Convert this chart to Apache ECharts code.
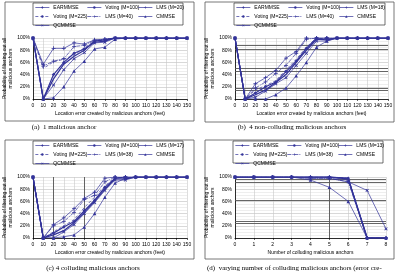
<!DOCTYPE html>
<html><head><meta charset="utf-8">
<script src="https://cdn.jsdelivr.net/npm/echarts@6/dist/echarts.min.js"></script>
<style>html,body{margin:0;padding:0;background:#fff}#c{width:397px;height:274px}</style>
</head><body><div id="c"></div>
<script>
// ---- data ----
const xFeet = [0,10,20,30,40,50,60,70,80,90,100,110,120,130,140,150];
const xCount = [0,1,2,3,4,5,6,7,8];
const yTicks = [0,20,40,60,80,100];

const namesA = ['EARMMSE','Voting (M=100)','LMS (M=20)','Voting (M=225)','LMS (M=40)','CMMSE','QCMMSE'];
const namesB = ['EARMMSE','Voting (M=100)','LMS (M=18)','Voting (M=225)','LMS (M=40)','CMMSE','QCMMSE'];
const namesC = ['EARMMSE','Voting (M=100)','LMS (M=17)','Voting (M=225)','LMS (M=38)','CMMSE','QCMMSE'];
const namesD = ['EARMMSE','Voting (M=100)','LMS (M=13)','Voting (M=225)','LMS (M=38)','CMMSE','QCMMSE'];

// (a) 1 malicious anchor
const a_earmmse = [100,0,40,60,75,82,93,95,100,100,100,100,100,100,100,100];
const a_vote100 = [100,0,33,57,70,80,95,97,100,100,100,100,100,100,100,100];
const a_lms1    = [100,57,83,83,92,90,97,98,100,100,100,100,100,100,100,100];
const a_vote225 = [100,50,61,65,72,84,95,97,100,100,100,100,100,100,100,100];
const a_lms2    = [100,54,62,66,86,88,96,98,100,100,100,100,100,100,100,100];
const a_cmmse   = [100,0,2,20,46,62,82,85,98,100,100,100,100,100,100,100];
const a_qcmmse  = [100,0,23,48,66,76,92,93,100,100,100,100,100,100,100,100];

// (b) 4 non-colluding malicious anchors
const b_earmmse = [100,0,10,20,28,45,62,83,100,100,100,100,100,100,100,100];
const b_vote100 = [100,0,7,15,27,40,60,80,98,97,100,100,100,100,100,100];
const b_lms1    = [100,0,25,35,47,67,78,100,100,100,100,100,100,100,100,100];
const b_vote225 = [100,0,15,22,30,48,65,85,100,98,100,100,100,100,100,100];
const b_lms2    = [100,0,18,28,42,55,75,98,100,100,100,100,100,100,100,100];
const b_cmmse   = [100,0,0,0,7,18,38,60,85,95,100,100,100,100,100,100];
const b_qcmmse  = [100,0,3,13,25,35,55,75,95,95,100,100,100,100,100,100];

// (c) 4 colluding malicious anchors
const c_earmmse = [100,0,8,18,27,45,62,83,98,100,100,100,100,100,100,100];
const c_vote100 = [100,0,5,12,25,42,60,80,97,97,100,100,100,100,100,100];
const c_lms1    = [100,0,22,33,48,65,75,98,100,100,100,100,100,100,100,100];
const c_vote225 = [100,0,10,20,30,50,67,85,100,98,100,100,100,100,100,100];
const c_lms2    = [100,0,20,27,42,63,70,92,100,100,100,100,100,100,100,100];
const c_cmmse   = [100,0,0,2,5,18,40,67,90,98,100,100,100,100,100,100];
const c_qcmmse  = [100,0,0,10,22,40,58,78,95,95,100,100,100,100,100,100];

// (d) varying number of colluding malicious anchors
const d_earmmse = [100,100,100,100,100,100,98,0,0];
const d_vote100 = [100,100,100,100,100,100,97,0,0];
const d_lms1    = [100,100,100,100,100,100,95,0,0];
const d_vote225 = [100,100,100,100,100,100,98,0,0];
const d_lms2    = [100,100,100,100,98,98,92,0,0];
const d_cmmse   = [100,100,100,100,95,83,60,0,0];
const d_qcmmse  = [100,100,100,100,98,98,92,78,15];

// scan artefact lines
const b_darkY = [88,82,51,46,18,14];
const c_darkX = [20,50];
const d_darkY = [97,91,62,28,24];
const d_darkX = [5];

const captions = ['(a)  1 malicious anchor','(b)  4 non-colluding malicious anchors','(c) 4 colluding malicious anchors','(d)  varying number of colluding malicious anchors (error cre-'];
const xTitles = ['Location error created by malicious anchors (feet)','Location error created by malicious anchors (feet)','Location error created by malicious anchors (feet)','Number of colluding malicious anchors'];
const yTitle = 'Probability of filtering out all\nmalicious anchors';

// ---- styles ----
const C = '#34349a';
const plus = 'path://M2,0h1v2h2v1h-2v2h-1v-2h-2v-1h2z';
const styles = [
  {symbol:'diamond', size:3.5, width:1.2, type:'solid'},
  {symbol:'none', size:0, width:1.3, type:'solid'},
  {symbol:plus, size:4, width:0.7, type:'solid'},
  {symbol:'none', size:0, width:0.7, type:[3,2]},
  {symbol:plus, size:4, width:0.7, type:[4,1,1,1]},
  {symbol:'triangle', size:3.5, width:0.7, type:'solid'},
  {symbol:plus, size:4, width:0.7, type:'solid', rotate:45}
];

const panels = [
  {names:namesA, data:[a_earmmse,a_vote100,a_lms1,a_vote225,a_lms2,a_cmmse,a_qcmmse], x:xFeet, max:150, itv:10,
   grid:{left:33,right:210,top:38,bottom:175}, frame:[5,2,189,119], lbox:[33,3,150,22], cap:[64,127]},
  {names:namesB, data:[b_earmmse,b_vote100,b_lms1,b_vote225,b_lms2,b_cmmse,b_qcmmse], x:xFeet, max:150, itv:10,
   grid:{left:235,right:9,top:38,bottom:175}, frame:[205,2,189,120], lbox:[234,3,151,22], cap:[292,127], darkY:b_darkY},
  {names:namesC, data:[c_earmmse,c_vote100,c_lms1,c_vote225,c_lms2,c_cmmse,c_qcmmse], x:xFeet, max:150, itv:10,
   grid:{left:33,right:210,top:177,bottom:36}, frame:[5,140,189,119], lbox:[33,141,150,23], cap:[93,268], darkX:c_darkX},
  {names:namesD, data:[d_earmmse,d_vote100,d_lms1,d_vote225,d_lms2,d_cmmse,d_qcmmse], x:xCount, max:8, itv:1,
   grid:{left:235,right:11,top:177,bottom:36}, frame:[205,140,189,119], lbox:[233,141,150,22], cap:[207,268], capLeft:true, darkY:d_darkY, darkX:d_darkX}
];

const grids=[], xAxes=[], yAxes=[], series=[], legends=[], graphics=[];
const fam = 'Liberation Sans';
panels.forEach((p,pi)=>{
  grids.push(p.grid);
  xAxes.push({type:'value', gridIndex:pi, min:0, max:p.max, interval:p.itv,
    name:xTitles[pi], nameLocation:'middle', nameGap:12, nameTextStyle:{fontSize:5, fontFamily:fam, color:'#000'},
    axisLine:{lineStyle:{color:'#000', width:0.8}}, axisTick:{show:true, length:2, lineStyle:{color:'#000',width:0.6}},
    axisLabel:{fontSize:5, fontFamily:fam, color:'#000', margin:4},
    splitLine:{show:true, lineStyle:{color:'#c8c8c8', width:0.6}}});
  yAxes.push({type:'value', gridIndex:pi, min:0, max:100, interval:20,
    name:yTitle, nameLocation:'middle', nameGap:17, nameRotate:90,
    nameTextStyle:{fontSize:5, fontFamily:fam, color:'#000', lineHeight:6},
    axisLine:{show:true, lineStyle:{color:'#000', width:0.8}}, axisTick:{show:false},
    axisLabel:{fontSize:5, fontFamily:fam, color:'#000', margin:3, formatter:'{value}%'},
    splitLine:{show:true, lineStyle:{color:'#bdbdbd', width:0.6}},
    minorTick:{show:false, splitNumber:4}, minorSplitLine:{show:true, lineStyle:{color:'#dcdcdc', width:0.5}}});
  p.names.forEach((nm,si)=>{
    const st = styles[si];
    const s = {type:'line', name:nm, xAxisIndex:pi, yAxisIndex:pi,
      data:p.x.map((xv,i)=>[xv,p.data[si][i]]),
      symbol:st.symbol, symbolSize:st.size, symbolRotate:st.rotate||0, showSymbol:st.symbol!=='none',
      lineStyle:{color:C, width:st.width, type:st.type}, itemStyle:{color:C},
      emphasis:{disabled:true}, animation:false, z:3};
    if(si===0){
      const ml=[];
      (p.darkY||[]).forEach(v=>ml.push({yAxis:v}));
      (p.darkX||[]).forEach(v=>ml.push({xAxis:v}));
      if(ml.length) s.markLine={silent:true, symbol:'none', label:{show:false}, lineStyle:{color:'#555', width:0.9, type:'solid'}, data:ml, z:1};
    }
    series.push(s);
  });
  const cols = [[p.names[0],p.names[3],p.names[6]],[p.names[1],p.names[4]],[p.names[2],p.names[5]]];
  const colX = [2,54,105];
  cols.forEach((cd,ci)=>{
    legends.push({data:cd, orient:'vertical', left:p.lbox[0]+colX[ci], top:p.lbox[1]+2, itemWidth:14, itemHeight:3, itemGap:4,
      textStyle:{fontSize:5, fontFamily:fam, color:'#000', padding:[0,0,0,-1]}, padding:0, selectedMode:false, inactiveColor:C,
      itemStyle:{borderWidth:0}, lineStyle:{width:0.7}});
  });
  graphics.push({type:'rect', shape:{x:p.frame[0],y:p.frame[1],width:p.frame[2],height:p.frame[3]}, style:{fill:'none', stroke:'#555', lineWidth:0.8}, silent:true});
  graphics.push({type:'rect', shape:{x:p.lbox[0],y:p.lbox[1],width:p.lbox[2],height:p.lbox[3]}, style:{fill:'none', stroke:'#333', lineWidth:0.7}, silent:true});
  graphics.push({type:'text', x:p.cap[0], y:p.cap[1], style:{text:captions[pi], fill:'#000', font:'7px "Liberation Serif"', textAlign:p.capLeft?'left':'center', textVerticalAlign:'middle'}, silent:true});
});

const chart = echarts.init(document.getElementById('c'), null, {renderer:'canvas'});
chart.setOption({animation:false, backgroundColor:'#fff', grid:grids, xAxis:xAxes, yAxis:yAxes, legend:legends, series:series, graphic:graphics});
</script></body></html>
